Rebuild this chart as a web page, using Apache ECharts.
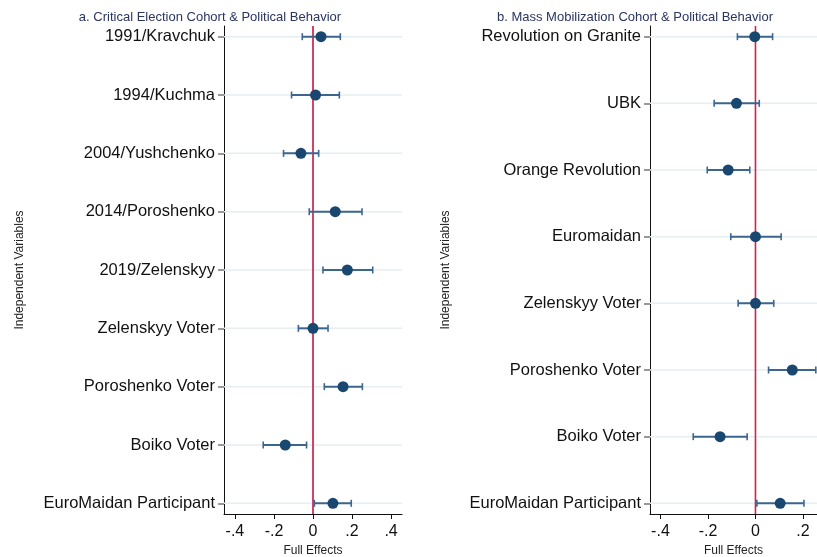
<!DOCTYPE html>
<html>
<head>
<meta charset="utf-8">
<script src="https://cdn.jsdelivr.net/npm/echarts@6/dist/echarts.min.js"></script>
<style>html,body{margin:0;padding:0;background:#fff}#c{width:817px;height:557px}</style>
</head>
<body>
<div id="c"></div>
<script>
// ---- Data ----
var leftCategories = ["1991/Kravchuk","1994/Kuchma","2004/Yushchenko","2014/Poroshenko","2019/Zelenskyy","Zelenskyy Voter","Poroshenko Voter","Boiko Voter","EuroMaidan Participant"];
var leftEst = [0.041, 0.013, -0.062, 0.114, 0.176, 0.0, 0.154, -0.142, 0.102];
var leftLo  = [-0.055, -0.110, -0.151, -0.019, 0.051, -0.075, 0.058, -0.255, 0.007];
var leftHi  = [0.140, 0.135, 0.029, 0.251, 0.306, 0.077, 0.253, -0.033, 0.196];

var rightCategories = ["Revolution on Granite","UBK","Orange Revolution","Euromaidan","Zelenskyy Voter","Poroshenko Voter","Boiko Voter","EuroMaidan Participant"];
var rightEst = [-0.003, -0.080, -0.115, 0.0, 0.0, 0.155, -0.149, 0.104];
var rightLo  = [-0.076, -0.174, -0.203, -0.104, -0.073, 0.055, -0.262, 0.006];
var rightHi  = [0.072, 0.016, -0.024, 0.108, 0.077, 0.254, -0.035, 0.204];

var xTicks = [-0.4, -0.2, 0, 0.2, 0.4];
var titles = ["a. Critical Election Cohort & Political Behavior", "b. Mass Mobilization Cohort & Political Behavior"];
var xName = "Full Effects";
var yName = "Independent Variables";

// ---- Build ----
var FONT = '"Liberation Sans", Arial, Helvetica, sans-serif';
var navy = '#1a476f', ciColor = '#3a6690';

function fmtTick(v){
  if (Math.abs(v) < 1e-9) return '0';
  var s = String(Math.round(v*10)/10);
  return s.replace('0.', '.');
}
function idx(n){ var a=[]; for(var i=0;i<n;i++) a.push(i); return a; }

function errData(lo, hi){ return lo.map(function(l,i){ return [l, hi[i], i]; }); }
function ptData(est){ return est.map(function(e,i){ return [e, i]; }); }

function errSeries(gi, lo, hi){
  return {
    type: 'custom', xAxisIndex: gi, yAxisIndex: gi, z: 3,
    data: errData(lo, hi),
    encode: { x: [0,1], y: 2 },
    renderItem: function(params, api){
      var a = api.coord([api.value(0), api.value(2)]);
      var b = api.coord([api.value(1), api.value(2)]);
      var h = 3.5;
      var st = { stroke: ciColor, lineWidth: 2 };
      return { type: 'group', children: [
        { type: 'line', shape: { x1:a[0], y1:a[1], x2:b[0], y2:b[1] }, style: st },
        { type: 'line', shape: { x1:a[0], y1:a[1]-h, x2:a[0], y2:a[1]+h }, style: { stroke: ciColor, lineWidth: 1.6 } },
        { type: 'line', shape: { x1:b[0], y1:b[1]-h, x2:b[0], y2:b[1]+h }, style: { stroke: ciColor, lineWidth: 1.6 } }
      ]};
    }
  };
}

function makeX(gi, min, max){
  return {
    gridIndex: gi, type: 'value', min: min, max: max,
    name: xName, nameLocation: 'middle', nameGap: 30,
    nameTextStyle: { fontFamily: FONT, fontSize: 12, color: '#222' },
    axisLine: { show: true, onZero: false, lineStyle: { color: '#111', width: 1 } },
    axisTick: { show: true, length: 5, customValues: xTicks, lineStyle: { color: '#111' } },
    axisLabel: { customValues: xTicks, formatter: fmtTick, fontFamily: FONT, fontSize: 16, color: '#111', margin: 10 },
    splitLine: { show: false }
  };
}
function makeY(gi, cats, min, max){
  var vals = idx(cats.length);
  return {
    gridIndex: gi, type: 'value', inverse: true, min: min, max: max,
    name: yName, nameLocation: 'middle', nameGap: 198, nameRotate: 90,
    nameTextStyle: { fontFamily: FONT, fontSize: 12, color: '#222' },
    axisLine: { show: true, onZero: false, lineStyle: { color: '#111', width: 1 } },
    axisTick: { show: true, length: 6, customValues: vals, lineStyle: { color: '#777', width: 1.5 } },
    axisLabel: { customValues: vals, formatter: function(v){ return cats[Math.round(v)]; },
                 fontFamily: FONT, fontSize: 16.5, color: '#111', margin: 9, padding: [3, 0, 0, 0] },
    splitLine: { show: false }
  };
}
function gridLines(gi, cats, xmin, xmax){
  return {
    type: 'custom', xAxisIndex: gi, yAxisIndex: gi, z: 1, silent: true,
    data: idx(cats.length).map(function(i){ return [xmin, xmax, i]; }),
    encode: { x: [0,1], y: 2 },
    renderItem: function(params, api){
      var a = api.coord([api.value(0), api.value(2)]);
      var b = api.coord([api.value(1), api.value(2)]);
      return { type: 'line', shape: { x1:a[0], y1:a[1], x2:b[0], y2:b[1] }, style: { stroke: '#e6eef1', lineWidth: 1.5 } };
    }
  };
}
function zeroLine(gi, ymin, ymax, color, w){
  return {
    type: 'line', xAxisIndex: gi, yAxisIndex: gi, z: 2, silent: true,
    data: [[0, ymin], [0, ymax]], symbol: 'none',
    lineStyle: { color: color, width: w }
  };
}
function points(gi, est){
  return {
    type: 'scatter', xAxisIndex: gi, yAxisIndex: gi, z: 4,
    data: ptData(est), symbol: 'circle', symbolSize: 11,
    itemStyle: { color: navy, opacity: 1 }
  };
}

var LX = [-0.456, 0.456], LY = [-0.183, 8.183];
var RX = [-0.444, 0.259], RY = [-0.16, 7.16];

var option = {
  backgroundColor: '#fff',
  animation: false,
  title: [
    { text: titles[0], left: 205, top: 6, textAlign: 'center',
      textStyle: { fontFamily: FONT, fontSize: 13, fontWeight: 'normal', color: '#2a3560' } },
    { text: titles[1], left: 630, top: 6, textAlign: 'center',
      textStyle: { fontFamily: FONT, fontSize: 13, fontWeight: 'normal', color: '#2a3560' } }
  ],
  grid: [
    { left: 224, top: 26, width: 178, height: 488, outerBoundsMode: 'none', containLabel: false },
    { left: 650, top: 26, width: 167, height: 488, outerBoundsMode: 'none', containLabel: false }
  ],
  xAxis: [ makeX(0, LX[0], LX[1]), makeX(1, RX[0], RX[1]) ],
  yAxis: [ makeY(0, leftCategories, LY[0], LY[1]), makeY(1, rightCategories, RY[0], RY[1]) ],
  series: [
    gridLines(0, leftCategories, LX[0], LX[1]),
    zeroLine(0, LY[0], LY[1], '#cf4468', 2),
    errSeries(0, leftLo, leftHi),
    points(0, leftEst),
    gridLines(1, rightCategories, RX[0], RX[1]),
    zeroLine(1, RY[0], RY[1], '#d3234c', 1.6),
    errSeries(1, rightLo, rightHi),
    points(1, rightEst)
  ]
};
var chart = echarts.init(document.getElementById('c'), null, { renderer: 'canvas' });
chart.setOption(option);
</script>
</body>
</html>
